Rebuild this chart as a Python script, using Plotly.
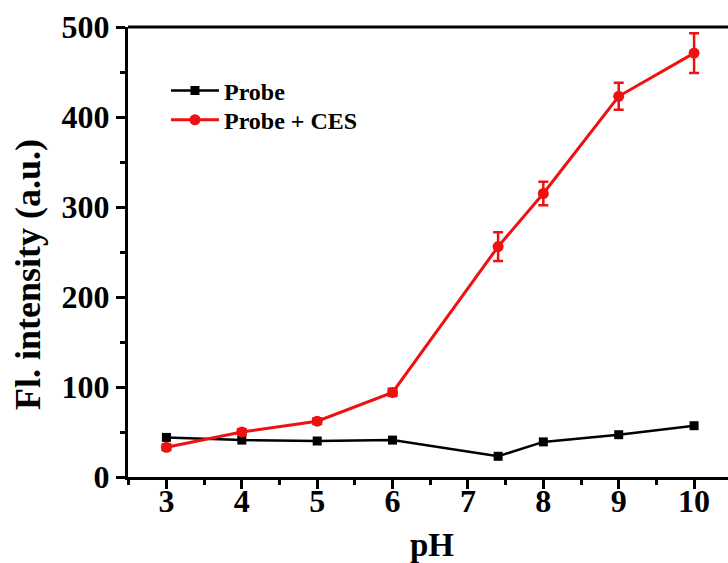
import plotly.graph_objects as go

# pH values measured
ph = [3, 4, 5, 6, 7.4, 8, 9, 10]

# Fluorescence intensity (a.u.)
probe = [44, 41, 40, 41, 23, 39, 47, 57]
probe_ces = [33, 50, 62, 94, 256, 315, 423, 471]
probe_ces_err = [3, 3, 3, 4, 16, 13, 15, 22]

x_ticks = [3, 4, 5, 6, 7, 8, 9, 10]
y_ticks = [0, 100, 200, 300, 400, 500]

FONT = "Liberation Serif, Times New Roman, serif"

fig = go.Figure()

fig.add_trace(go.Scatter(
    x=ph, y=probe, name="<b>Probe</b>", mode="lines+markers",
    line=dict(color="black", width=2.5),
    marker=dict(symbol="square", size=9, color="black"),
    legend="legend",
))

fig.add_trace(go.Scatter(
    x=ph, y=probe_ces, name="<b>Probe + CES</b>", mode="lines+markers",
    line=dict(color="#ee1111", width=3),
    marker=dict(symbol="circle", size=11, color="#ee1111"),
    error_y=dict(type="data", array=probe_ces_err, color="#ee1111",
                 thickness=2.5, width=5),
    legend="legend2",
))

axis_common = dict(
    showline=True, linecolor="black", linewidth=3,
    ticks="outside", tickwidth=3, ticklen=9, tickcolor="black",
    showgrid=False, zeroline=False,
    tickfont=dict(family=FONT, size=32, color="black"),
)

fig.update_xaxes(
    **axis_common,
    range=[2.49, 10.45], tickvals=x_ticks,
    ticktext=[f"<b>{v}</b>" for v in x_ticks],
    ticklabelstandoff=-15,
    minor=dict(ticks="outside", dtick=0.5, tick0=2.5, ticklen=5,
               tickwidth=3, tickcolor="black"),
)

fig.update_yaxes(
    **axis_common,
    range=[0, 500], tickvals=y_ticks,
    ticktext=[f"<b>{v}</b>" for v in y_ticks],
    minor=dict(ticks="outside", dtick=50, ticklen=5,
               tickwidth=3, tickcolor="black"),
)

# top frame line
fig.add_shape(type="line", xref="paper", yref="paper", x0=0, x1=1, y0=1, y1=1,
              line=dict(color="black", width=3))

# axis titles
fig.add_annotation(text="<b>pH</b>", xref="paper", yref="paper",
                   x=0.507, y=-0.1511, xanchor="center", yanchor="middle",
                   showarrow=False, font=dict(family=FONT, size=33, color="black"))
fig.add_annotation(text="<b>Fl. intensity (a.u.)</b>", xref="paper", yref="paper",
                   x=-0.1667, y=0.451, xanchor="center", yanchor="middle",
                   textangle=-90, showarrow=False,
                   font=dict(family=FONT, size=36, color="black"))

legend_common = dict(
    xanchor="left", yanchor="middle",
    font=dict(family=FONT, size=24, color="black"),
    bgcolor="rgba(0,0,0,0)", itemwidth=48,
)

fig.update_layout(
    width=728, height=563,
    margin=dict(l=128, r=0, t=27, b=86),
    plot_bgcolor="white", paper_bgcolor="white",
    legend=dict(x=0.0633, y=0.858, **legend_common),
    legend2=dict(x=0.0633, y=0.793, **legend_common),
    showlegend=True,
)

fig.write_html("out.html")
